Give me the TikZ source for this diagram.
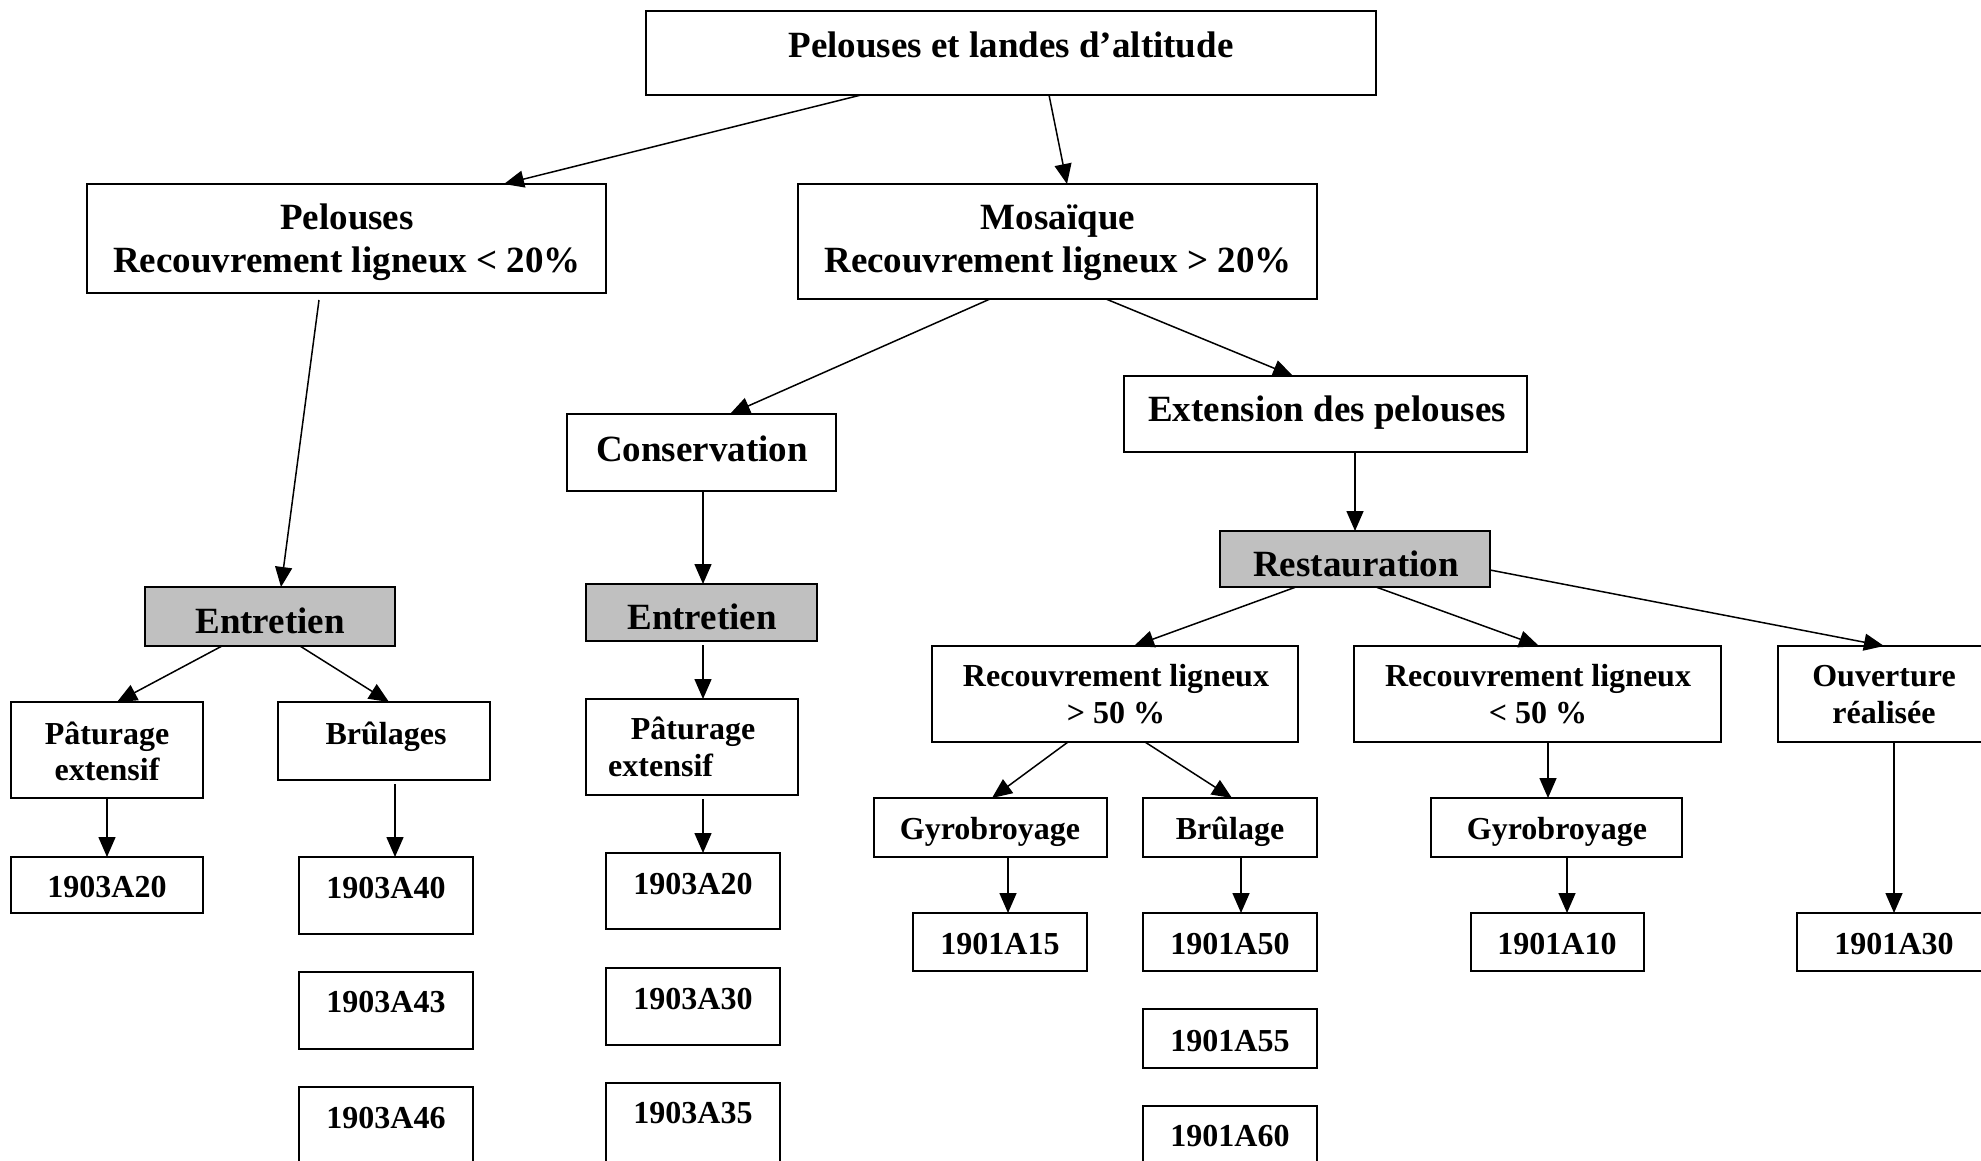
\documentclass[tikz,border=0pt]{standalone}
\usepackage{fontspec}
\setmainfont{Liberation Serif}
\usetikzlibrary{arrows.meta}
\definecolor{boxgray}{RGB}{192,192,192}
\tikzset{
  box/.style={draw=black,line width=1.8pt,inner sep=0pt,outer sep=0pt,fill=white},
  graybox/.style={fill=boxgray},
  big/.style={font=\fontsize{37}{43}\selectfont\bfseries,inner sep=0pt,anchor=base},
  small/.style={font=\fontsize{32}{37}\selectfont\bfseries,inner sep=0pt,anchor=base},
  arr/.style={line width=1.5pt,-{Triangle[length=20pt,width=17pt]}}
}
\newcommand\bx[6][]{\node[box,#1,minimum width={(#4-#2)*1pt},minimum height={(#5-#3)*1pt}] (#6) at ({(#2+#4)/2},{(#3+#5)/2}) {};}
\newcommand\tx[5][small]{\node[#1] (#2) at (#3,#4) {#5};}
\begin{document}
\begin{tikzpicture}[x=1pt,y=-1pt]
\clip (0,0) rectangle (1981,1160);
\fill[white] (0,0) rectangle (1981,1160);
% boxes
\bx{646}{11}{1376}{95}{top}
\bx{87}{184}{606}{293}{pel}
\bx{798}{184}{1317}{299}{mos}
\bx{567}{414}{836}{491}{cons}
\bx{1124}{376}{1527}{452}{ext}
\bx[graybox]{1220}{531}{1490}{587}{rest}
\bx[graybox]{145}{587}{395}{646}{entL}
\bx[graybox]{586}{584}{817}{641}{entM}
\bx{11}{702}{203}{798}{patL}
\bx{278}{702}{490}{780}{brus}
\bx{586}{699}{798}{795}{patM}
\bx{11}{857}{203}{913}{cLa}
\bx{299}{857}{473}{934}{cLb}
\bx{299}{972}{473}{1049}{cLc}
\bx{299}{1087}{473}{1166}{cLd}
\bx{606}{853}{780}{929}{cMa}
\bx{606}{968}{780}{1045}{cMb}
\bx{606}{1083}{780}{1166}{cMc}
\bx{932}{646}{1298}{742}{ra}
\bx{1354}{646}{1721}{742}{rb}
\bx{1778}{646}{1990}{742}{ouv}
\bx{874}{798}{1107}{857}{gyL}
\bx{1143}{798}{1317}{857}{bru}
\bx{1431}{798}{1682}{857}{gyR}
\bx{913}{913}{1087}{971}{cRa}
\bx{1143}{913}{1317}{971}{cRb}
\bx{1143}{1009}{1317}{1068}{cRc}
\bx{1143}{1106}{1317}{1166}{cRd}
\bx{1471}{913}{1644}{971}{cRe}
\bx{1797}{913}{1992}{971}{cRf}
% texts
\tx[big]{ttop}{1011}{57}{Pelouses et landes d’altitude}
\tx[big]{tpel1}{347}{229}{Pelouses}
\tx[big]{tpel2}{347}{272}{Recouvrement ligneux < 20\%}
\tx[big]{tmos1}{1058}{229}{Mosaïque}
\tx[big]{tmos2}{1058}{272}{Recouvrement ligneux > 20\%}
\tx[big]{tcons}{702}{461}{Conservation}
\tx[big]{text}{1327}{421}{Extension des pelouses}
\tx[big]{trest}{1356}{576}{Restauration}
\tx[big]{tentL}{270}{633}{Entretien}
\tx[big]{tentM}{702}{629}{Entretien}
\tx{tpatL1}{107}{744}{Pâturage}
\tx{tpatL2}{107}{780}{extensif}
\tx{tbrus}{386}{744}{Brûlages}
\tx{tpatM1}{693}{739}{Pâturage}
\node[small,anchor=base west] (tpatM2) at (608,776) {extensif};
\tx{tcLa}{107}{897}{1903A20}
\tx{tcLb}{386}{898}{1903A40}
\tx{tcLc}{386}{1012}{1903A43}
\tx{tcLd}{386}{1128}{1903A46}
\tx{tcMa}{693}{894}{1903A20}
\tx{tcMb}{693}{1009}{1903A30}
\tx{tcMc}{693}{1123}{1903A35}
\tx{tra1}{1116}{686}{Recouvrement ligneux}
\tx{tra2}{1116}{723}{> 50 \%}
\tx{trb1}{1538}{686}{Recouvrement ligneux}
\tx{trb2}{1538}{723}{< 50 \%}
\tx{touv1}{1884}{686}{Ouverture}
\tx{touv2}{1884}{723}{réalisée}
\tx{tgyL}{990}{839}{Gyrobroyage}
\tx{tbru}{1230}{839}{Brûlage}
\tx{tgyR}{1557}{839}{Gyrobroyage}
\tx{tcRa}{1000}{954}{1901A15}
\tx{tcRb}{1230}{954}{1901A50}
\tx{tcRc}{1230}{1051}{1901A55}
\tx{tcRd}{1230}{1146}{1901A60}
\tx{tcRe}{1557}{954}{1901A10}
\tx{tcRf}{1894}{954}{1901A30}
% connectors
\draw[arr] ([xshift=215pt]top.south west) -- ([xshift=417pt]pel.north west);
\draw[arr] ([xshift=403pt]top.south west) -- ([xshift=269pt]mos.north west);
\draw[arr] ([xshift=232pt,yshift=-7pt]pel.south west) -- ([xshift=136pt]entL.north west);
\draw[arr] ([xshift=192pt]mos.south west) -- ([xshift=163pt]cons.north west);
\draw[arr] ([xshift=308pt]mos.south west) -- ([xshift=169pt]ext.north west);
\draw[arr] ([xshift=136pt]cons.south west) -- ([xshift=117pt]entM.north west);
\draw[arr] ([xshift=231pt]ext.south west) -- ([xshift=135pt]rest.north west);
\draw[arr] ([xshift=77pt]entL.south west) -- ([xshift=106pt]patL.north west);
\draw[arr] ([xshift=155pt]entL.south west) -- ([xshift=111pt]brus.north west);
\draw[arr] ([xshift=96pt]patL.south west) -- ([xshift=96pt]cLa.north west);
\draw[arr] ([xshift=117pt,yshift=-4pt]brus.south west) -- ([xshift=96pt]cLb.north west);
\draw[arr] ([xshift=117pt,yshift=-4pt]entM.south west) -- ([xshift=117pt]patM.north west);
\draw[arr] ([xshift=117pt,yshift=-4pt]patM.south west) -- ([xshift=97pt]cMa.north west);
\draw[arr] ([xshift=76pt]rest.south west) -- ([xshift=202pt]ra.north west);
\draw[arr] ([xshift=156pt]rest.south west) -- ([xshift=185pt]rb.north west);
\draw[arr] ([yshift=17pt]rest.south east) -- ([xshift=106pt]ouv.north west);
\draw[arr] ([xshift=136pt]ra.south west) -- ([xshift=118pt]gyL.north west);
\draw[arr] ([xshift=213pt]ra.south west) -- ([xshift=89pt]bru.north west);
\draw[arr] ([xshift=194pt]rb.south west) -- ([xshift=117pt]gyR.north west);
\draw[arr] ([xshift=134pt]gyL.south west) -- ([xshift=95pt]cRa.north west);
\draw[arr] ([xshift=98pt]bru.south west) -- ([xshift=98pt]cRb.north west);
\draw[arr] ([xshift=136pt]gyR.south west) -- ([xshift=96pt]cRe.north west);
\draw[arr] ([xshift=116pt]ouv.south west) -- ([xshift=97pt]cRf.north west);
\end{tikzpicture}
\end{document}
